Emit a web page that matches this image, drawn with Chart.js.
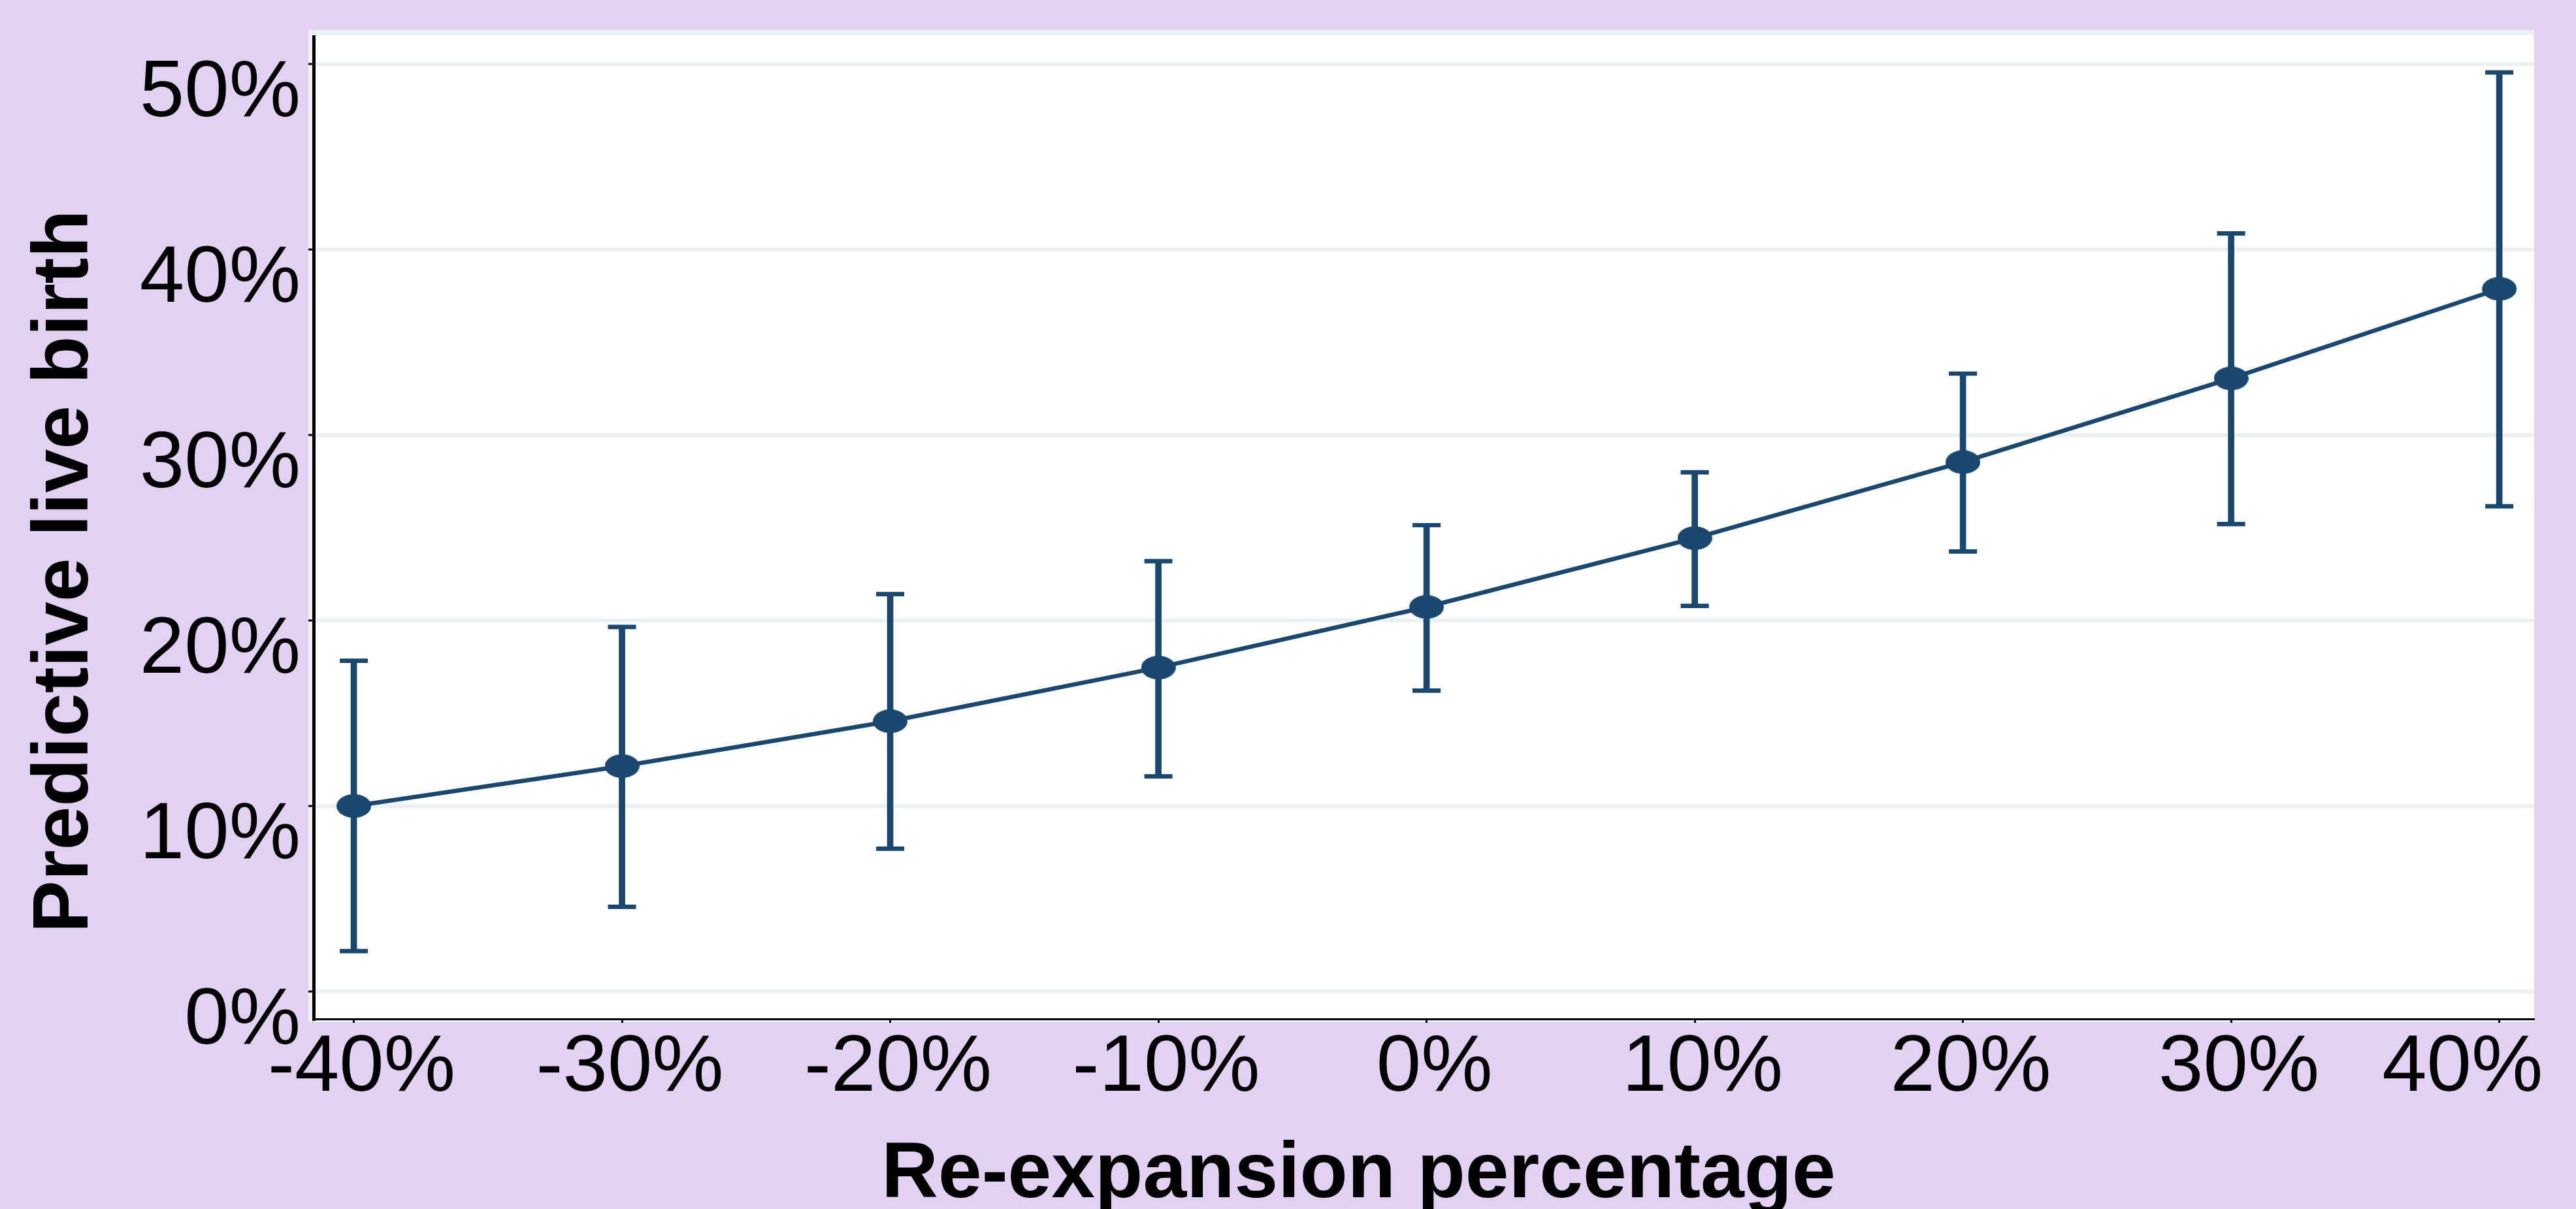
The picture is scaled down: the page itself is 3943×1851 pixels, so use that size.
<!DOCTYPE html>
<html>
<head>
<meta charset="utf-8">
<script src="https://cdn.jsdelivr.net/npm/chart.js@4.4.1/dist/chart.umd.min.js"></script>
<style>
html,body{margin:0;padding:0;background:#E2D1F2;overflow:hidden}
#wrap{width:3943px;height:1851px;position:relative}
canvas{display:block}
</style>
</head>
<body>
<div id="wrap"><canvas id="c" width="3943" height="1851"></canvas></div>
<script>
// ---- data ----
const categories = [-40, -30, -20, -10, 0, 10, 20, 30, 40];
const xTickLabels = ['-40%', '-30%', '-20%', '-10%', '0%', '10%', '20%', '30%', '40%'];
const predicted = [10.0, 12.15, 14.57, 17.46, 20.73, 24.44, 28.54, 33.05, 37.88];
const ciLower   = [2.18, 4.56, 7.70, 11.60, 16.22, 20.79, 23.72, 25.20, 26.16];
const ciUpper   = [17.83, 19.65, 21.42, 23.20, 25.14, 27.99, 33.31, 40.87, 49.55];
const yTicks = [0, 10, 20, 30, 40, 50];
const yTickLabels = ['0%', '10%', '20%', '30%', '40%', '50%'];
const xTitle = 'Re-expansion percentage';
const yTitle = 'Predictive live birth';

// ---- styles ----
const NAVY = '#1A476F';
const BG = '#E2D1F2';
const GRID = '#EAF2F3';
const TICK_FONT = "'Liberation Sans Narrow', 'Liberation Sans', Arial, sans-serif";
const TITLE_FONT = "'Liberation Sans', Arial, sans-serif";

// elliptical marker
const marker = document.createElement('canvas');
marker.width = 53; marker.height = 36;
const mc = marker.getContext('2d');
mc.fillStyle = NAVY;
mc.beginPath();
mc.ellipse(26.5, 18, 26.5, 18, 0, 0, Math.PI * 2);
mc.fill();

const bgPlugin = {
  id: 'bg',
  beforeDraw(chart) {
    const {ctx, chartArea: a} = chart;
    ctx.save();
    ctx.fillStyle = BG;
    ctx.fillRect(0, 0, chart.width, chart.height);
    ctx.fillStyle = GRID;
    ctx.fillRect(a.left - 8, a.top - 10, a.right - a.left + 8, a.bottom - a.top + 15);
    ctx.fillStyle = '#FFFFFF';
    ctx.fillRect(a.left - 1, a.top - 2, a.right - a.left + 1, a.bottom - a.top + 2);
    ctx.restore();
  }
};

new Chart(document.getElementById('c'), {
  type: 'line',
  data: {
    datasets: [
      {
        type: 'line',
        label: 'Predictive live birth',
        data: categories.map((c, i) => ({x: c, y: predicted[i]})),
        borderColor: NAVY,
        backgroundColor: NAVY,
        borderWidth: 6.5,
        tension: 0,
        fill: false,
        pointStyle: marker,
        pointRadius: 26,
        order: 0
      },
      {
        type: 'line',
        label: 'CI caps',
        data: categories.map((c, i) => ({x: c, y: ciUpper[i]}))
              .concat(categories.map((c, i) => ({x: c, y: ciLower[i]}))),
        showLine: false,
        pointStyle: 'line',
        pointRadius: 21.5,
        pointBorderWidth: 6.7,
        borderColor: NAVY,
        pointBorderColor: NAVY,
        backgroundColor: NAVY,
        order: 1
      },
      {
        type: 'bar',
        label: 'CI',
        data: categories.map((c, i) => ({x: c, y: [ciLower[i], ciUpper[i]]})),
        backgroundColor: NAVY,
        borderWidth: 0,
        barThickness: 9,
        grouped: false,
        order: 2
      }
    ]
  },
  options: {
    responsive: false,
    devicePixelRatio: 1,
    animation: false,
    events: [],
    layout: {padding: {top: 56, right: 64, left: 0, bottom: 0}},
    plugins: {legend: {display: false}, tooltip: {enabled: false}},
    scales: {
      x: {
        type: 'linear',
        min: -41.5,
        max: 41.3,
        offset: false,
        afterBuildTicks: s => { s.ticks = categories.map(v => ({value: v})); },
        afterFit: s => {
          s.height = 291;
          s.paddingLeft = 0; s.paddingRight = 0;
        },
        grid: {display: true, offset: false, drawOnChartArea: false, drawTicks: true,
               tickLength: 6, tickWidth: 3, tickColor: '#000'},
        border: {display: true, color: '#000', width: 3},
        ticks: {
          autoSkip: false, maxRotation: 0, minRotation: 0,
          color: '#000', padding: 9, labelOffset: 12,
          font: {family: TICK_FONT, size: 123, lineHeight: 1},
          callback: (v) => {
            const i = categories.indexOf(v);
            const lab = xTickLabels[i];
            return i === categories.length - 1 ? lab + '    ' : lab;
          }
        },
        title: {
          display: true, text: xTitle + '      ', color: '#000',
          font: {family: TITLE_FONT, size: 120, weight: 'bold', lineHeight: 0.8},
          padding: {top: 0, bottom: 3}
        }
      },
      y: {
        type: 'linear',
        min: -1.48,
        max: 51.48,
        afterBuildTicks: s => { s.ticks = yTicks.map(v => ({value: v})); },
        afterFit: s => {
          s.width = 480;
          s.paddingTop = 0; s.paddingBottom = 0;
        },
        grid: {color: GRID, lineWidth: 6, drawTicks: true, tickLength: 8, tickWidth: 3, tickColor: '#000'},
        border: {display: true, color: '#000', width: 5},
        ticks: {
          color: '#000', padding: 12, labelOffset: 46,
          font: {family: TICK_FONT, size: 123, lineHeight: 1},
          callback: (v) => yTickLabels[yTicks.indexOf(v)]
        },
        title: {
          display: true, text: yTitle + '    ', color: '#000',
          font: {family: TITLE_FONT, size: 120, weight: 'bold', lineHeight: 1.2},
          padding: {top: 29, bottom: 0}
        }
      }
    }
  },
  plugins: [bgPlugin]
});
</script>
</body>
</html>
